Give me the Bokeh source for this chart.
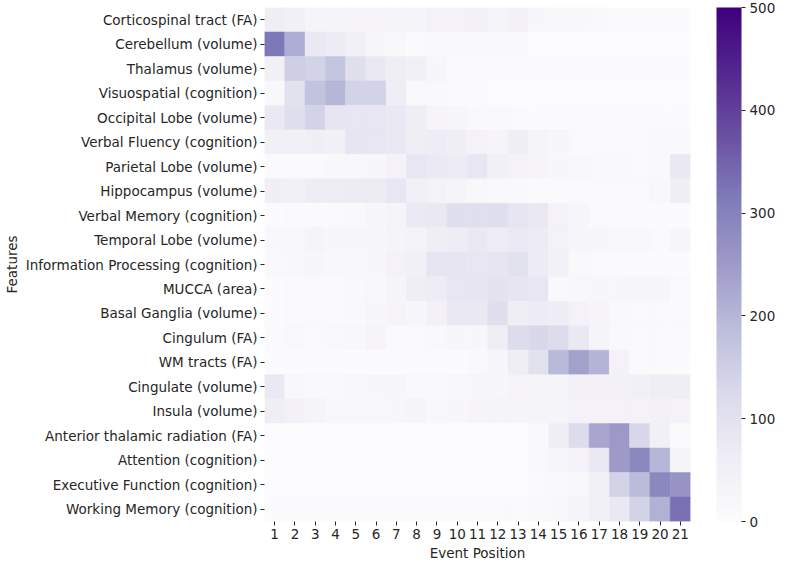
from bokeh.plotting import figure
from bokeh.models import ColumnDataSource, LinearColorMapper, ColorBar, FixedTicker
from bokeh.palettes import Purples256
from bokeh.transform import transform
from bokeh.embed import file_html
from bokeh.resources import INLINE

positions = [str(i) for i in range(1, 22)]

features = [
    "Corticospinal tract (FA)", "Cerebellum (volume)", "Thalamus (volume)",
    "Visuospatial (cognition)", "Occipital Lobe (volume)", "Verbal Fluency (cognition)",
    "Parietal Lobe (volume)", "Hippocampus (volume)", "Verbal Memory (cognition)",
    "Temporal Lobe (volume)", "Information Processing (cognition)", "MUCCA (area)",
    "Basal Ganglia (volume)", "Cingulum (FA)", "WM tracts (FA)", "Cingulate (volume)",
    "Insula (volume)", "Anterior thalamic radiation (FA)", "Attention (cognition)",
    "Executive Function (cognition)", "Working Memory (cognition)",
]

corticospinal = [60, 50, 35, 35, 30, 30, 35, 35, 40, 40, 45, 35, 45, 25, 20, 20, 15, 5, 5, 5, 5]
cerebellum = [320, 215, 80, 70, 50, 25, 20, 10, 15, 15, 15, 15, 15, 3, 3, 3, 3, 3, 3, 3, 3]
thalamus = [50, 150, 140, 170, 110, 80, 60, 50, 25, 10, 10, 5, 5, 5, 5, 5, 5, 5, 5, 5, 5]
visuospatial = [20, 100, 175, 200, 140, 140, 60, 15, 15, 5, 5, 3, 3, 3, 3, 3, 3, 3, 3, 3, 3]
occipital = [80, 110, 140, 90, 85, 85, 80, 60, 30, 25, 15, 15, 10, 5, 5, 5, 5, 5, 5, 5, 5]
verbal_fluency = [50, 50, 55, 50, 90, 85, 80, 60, 65, 55, 40, 30, 55, 35, 25, 10, 10, 10, 10, 15, 15]
parietal = [10, 10, 10, 20, 20, 25, 40, 85, 75, 70, 85, 50, 40, 30, 25, 20, 15, 15, 10, 15, 80]
hippocampus = [55, 50, 65, 65, 70, 70, 85, 50, 40, 35, 20, 15, 15, 10, 10, 10, 10, 10, 10, 20, 55]
verbal_memory = [5, 8, 10, 10, 15, 25, 35, 75, 80, 110, 110, 110, 90, 80, 40, 25, 10, 5, 5, 5, 5]
temporal = [20, 20, 30, 25, 25, 25, 35, 40, 60, 65, 80, 65, 75, 70, 40, 25, 25, 20, 20, 10, 25]
info_processing = [15, 20, 25, 20, 20, 25, 40, 50, 90, 90, 85, 90, 100, 70, 45, 15, 10, 8, 5, 5, 5]
mucca = [5, 8, 8, 8, 15, 20, 35, 60, 65, 85, 90, 95, 90, 85, 15, 20, 25, 25, 25, 25, 10]
basal_ganglia = [5, 8, 8, 8, 15, 25, 30, 25, 45, 80, 80, 110, 60, 70, 65, 40, 30, 15, 10, 8, 8]
cingulum = [10, 15, 10, 15, 20, 30, 10, 10, 15, 25, 25, 60, 120, 130, 120, 80, 35, 15, 10, 8, 8]
wm_tracts = [5, 5, 5, 5, 5, 5, 5, 5, 5, 5, 15, 25, 60, 100, 195, 240, 205, 40, 10, 10, 5]
cingulate = [80, 20, 15, 15, 20, 25, 25, 15, 15, 20, 25, 25, 30, 35, 35, 45, 45, 45, 50, 60, 60]
insula = [60, 45, 35, 20, 20, 20, 25, 35, 20, 25, 30, 35, 35, 35, 35, 40, 40, 40, 40, 45, 40]
anterior_thalamic = [3, 3, 3, 3, 3, 3, 3, 3, 3, 3, 3, 3, 3, 15, 60, 120, 230, 255, 130, 50, 10]
attention = [3, 3, 3, 3, 3, 3, 3, 3, 3, 3, 3, 3, 3, 15, 25, 40, 80, 250, 290, 200, 35]
executive = [3, 3, 3, 3, 3, 3, 3, 3, 3, 3, 3, 3, 3, 10, 15, 20, 50, 140, 190, 290, 265]
working_memory = [5, 5, 5, 5, 5, 5, 10, 8, 10, 10, 10, 10, 10, 15, 20, 35, 50, 80, 140, 210, 330]

rows = [corticospinal, cerebellum, thalamus, visuospatial, occipital, verbal_fluency,
        parietal, hippocampus, verbal_memory, temporal, info_processing, mucca,
        basal_ganglia, cingulum, wm_tracts, cingulate, insula, anterior_thalamic,
        attention, executive, working_memory]

xs, ys, vs = [], [], []
for feat, row in zip(features, rows):
    for pos, v in zip(positions, row):
        xs.append(pos)
        ys.append(feat)
        vs.append(v)
source = ColumnDataSource(dict(x=xs, y=ys, v=vs))

mapper = LinearColorMapper(palette=list(reversed(Purples256)), low=0, high=500)

FONT = "DejaVu Sans"
TXT = "#262626"
FS = "13.5px"
FH = 514

p = figure(x_range=positions, y_range=list(reversed(features)),
           frame_width=426, frame_height=FH, min_border_left=0, min_border_top=7,
           min_border_bottom=0, min_border_right=86,
           output_backend="svg", toolbar_location=None, tools="")
p.rect(x="x", y="y", width=1, height=1, source=source,
       fill_color=transform("v", mapper), line_color=transform("v", mapper), line_width=0.5)

p.outline_line_color = None
p.xgrid.grid_line_color = None
p.ygrid.grid_line_color = None
for ax in (p.xaxis[0], p.yaxis[0]):
    ax.axis_line_color = None
    ax.major_tick_line_color = TXT
    ax.major_tick_out = 4
    ax.major_tick_in = 0
    ax.major_label_text_font = FONT
    ax.major_label_text_font_size = FS
    ax.major_label_text_color = TXT
    ax.axis_label_text_font = FONT
    ax.axis_label_text_font_size = FS
    ax.axis_label_text_font_style = "normal"
    ax.axis_label_text_color = TXT
    ax.major_label_standoff = 3
    ax.axis_label_standoff = 3
p.xaxis.axis_label = "Event Position"
p.yaxis.axis_label = "Features"

cb = ColorBar(color_mapper=mapper, ticker=FixedTicker(ticks=[0, 100, 200, 300, 400, 500]),
              width=25, height=FH, location=(26, 0), padding=0, margin=0,
              bar_line_color=None, border_line_color=None,
              background_fill_alpha=0, major_tick_line_color=TXT, major_tick_out=4,
              major_tick_in=0, minor_tick_line_color=None, label_standoff=4,
              major_label_text_font=FONT, major_label_text_font_size=FS,
              major_label_text_color=TXT)
p.add_layout(cb, "right")

open("out.html", "w").write(file_html(p, INLINE))
